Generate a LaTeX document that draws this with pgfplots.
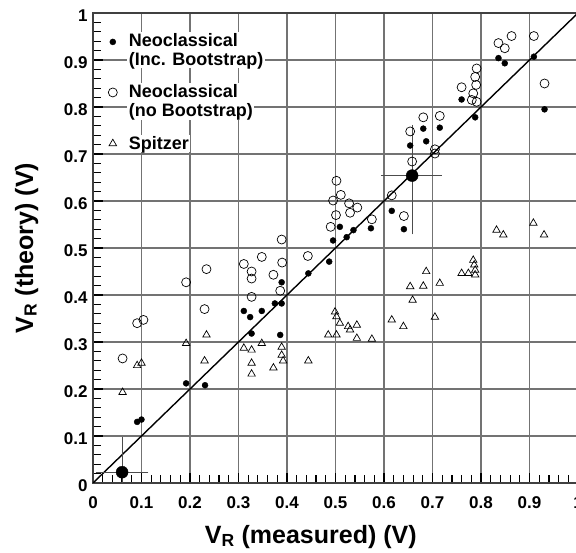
\documentclass[border=0pt]{standalone}
\usepackage{fontspec}
\setmainfont{Liberation Sans}
\usepackage{pgfplots}
\pgfplotsset{compat=1.18}
\begin{document}
\begin{tikzpicture}
\begin{axis}[
  scale only axis, width=485pt, height=470pt,
  xmin=0, xmax=1, ymin=0, ymax=1,
  xtick={0,0.1,0.2,0.3,0.4,0.5,0.6,0.7,0.8,0.9,1},
  ytick={0,0.1,0.2,0.3,0.4,0.5,0.6,0.7,0.8,0.9,1},
  minor x tick num=4, minor y tick num=4,
  xtick pos=bottom, ytick pos=left, tick align=inside,
  major tick length=10pt, minor tick length=8pt,
  major tick style={black, line width=1.2pt},
  minor tick style={black, line width=1.2pt},
  grid=major,
  major grid style={draw=black!55, line width=1.5pt},
  axis line style={black!75, line width=1.5pt},
  /pgf/number format/assume math mode=true,
  tick label style={font=\fontsize{17}{17}\selectfont\bfseries},
  xticklabel style={yshift=-10pt},
  yticklabel style={yshift=-3pt, xshift=-2pt},
  xlabel={V\textsubscript{R} (measured) (V)},
  ylabel={V\textsubscript{R} (theory) (V)},
  label style={font=\fontsize{25}{28}\selectfont\bfseries},
  xlabel style={at={(axis description cs:0.449,-0.1277)}, anchor=base},
  ylabel style={at={(axis description cs:-0.1237,0.5)}, anchor=base},
  legend cell align=left,
  legend style={at={(rel axis cs:0.025,0.965)}, anchor=north west, draw=none, fill=none,
    font=\fontsize{18}{19}\selectfont\bfseries,
    nodes={fill=white, align=left, inner sep=1.5pt}, row sep=15pt, column sep=10pt},
]
\coordinate (SW) at (rel axis cs:0,0);
% Neoclassical (inc. bootstrap)
\addplot[only marks, mark=*, mark size=3pt, black, legend image post style={yshift=8pt}] coordinates {
(0.091,0.130) (0.100,0.135) (0.192,0.212) (0.231,0.208)
(0.311,0.366) (0.324,0.353) (0.348,0.366) (0.327,0.318)
(0.375,0.382) (0.389,0.382) (0.386,0.315) (0.389,0.427)
(0.444,0.446) (0.487,0.471) (0.495,0.516) (0.523,0.523)
(0.509,0.545) (0.537,0.538) (0.573,0.542) (0.616,0.579)
(0.641,0.540) (0.654,0.718) (0.687,0.727) (0.681,0.754)
(0.715,0.756) (0.760,0.816) (0.788,0.778) (0.836,0.904)
(0.849,0.893) (0.909,0.907) (0.931,0.795)
};
\addlegendentry{Neoclassical\\(Inc. Bootstrap)}
% Neoclassical (no bootstrap)
\addplot[only marks, mark=o, mark size=4.5pt, black, mark options={line width=0.7pt}, legend image post style={yshift=9pt}] coordinates {
(0.061,0.265) (0.091,0.340) (0.104,0.347) (0.192,0.427) (0.230,0.370)
(0.234,0.455) (0.311,0.466) (0.327,0.450) (0.327,0.435) (0.327,0.396)
(0.348,0.481) (0.372,0.443) (0.386,0.409) (0.390,0.469) (0.389,0.518)
(0.443,0.483) (0.490,0.545) (0.501,0.570) (0.495,0.601) (0.511,0.613)
(0.502,0.643) (0.528,0.595) (0.545,0.586) (0.530,0.575) (0.575,0.561)
(0.616,0.612) (0.641,0.568) (0.658,0.684) (0.705,0.701) (0.705,0.710)
(0.654,0.748) (0.681,0.778) (0.715,0.781) (0.760,0.842) (0.781,0.815)
(0.791,0.811) (0.784,0.829) (0.790,0.847) (0.788,0.864) (0.791,0.882)
(0.836,0.936) (0.849,0.925) (0.863,0.951) (0.909,0.951) (0.931,0.850)
};
\addlegendentry{Neoclassical\\(no Bootstrap)}
% Spitzer
\addplot[only marks, mark=triangle, mark size=4.3pt, black, mark options={line width=0.7pt}] coordinates {
(0.061,0.193) (0.091,0.250) (0.100,0.255) (0.192,0.297) (0.234,0.315)
(0.230,0.260) (0.311,0.287) (0.327,0.283) (0.327,0.255) (0.327,0.232)
(0.348,0.297) (0.372,0.245) (0.389,0.289) (0.389,0.272) (0.392,0.260)
(0.444,0.260) (0.499,0.364) (0.502,0.354) (0.509,0.340) (0.526,0.333)
(0.530,0.326) (0.544,0.336) (0.485,0.315) (0.502,0.315) (0.544,0.308)
(0.575,0.306) (0.616,0.347) (0.640,0.333) (0.654,0.418) (0.659,0.389)
(0.681,0.419) (0.687,0.450) (0.705,0.353) (0.715,0.425) (0.760,0.446)
(0.774,0.446) (0.784,0.474) (0.786,0.464) (0.788,0.453) (0.788,0.443)
(0.832,0.538) (0.846,0.528) (0.908,0.553) (0.930,0.528)
};
\addlegendentry{Spitzer}
% y = x line
\addplot[black, line width=1.4pt, forget plot] coordinates {(0,0) (1,1)};
% large points with error bars
\addplot[only marks, mark=*, mark size=6pt, black, forget plot,
  error bars/.cd, x dir=both, y dir=both, x explicit, y explicit,
  error bar style={black!70, line width=0.9pt},
  error mark options={black!70, line width=0.9pt, mark size=7pt}]
  coordinates {
  (0.060,0.023) += (0.040,0.060) -= (0.040,0.034)
  (0.658,0.654) += (0.047,0.093) -= (0.050,0.110)
};
\end{axis}
\pgfresetboundingbox
\path ([shift={(-93pt,-70pt)}]SW) rectangle ([shift={(483pt,483pt)}]SW);
\end{tikzpicture}
\end{document}
